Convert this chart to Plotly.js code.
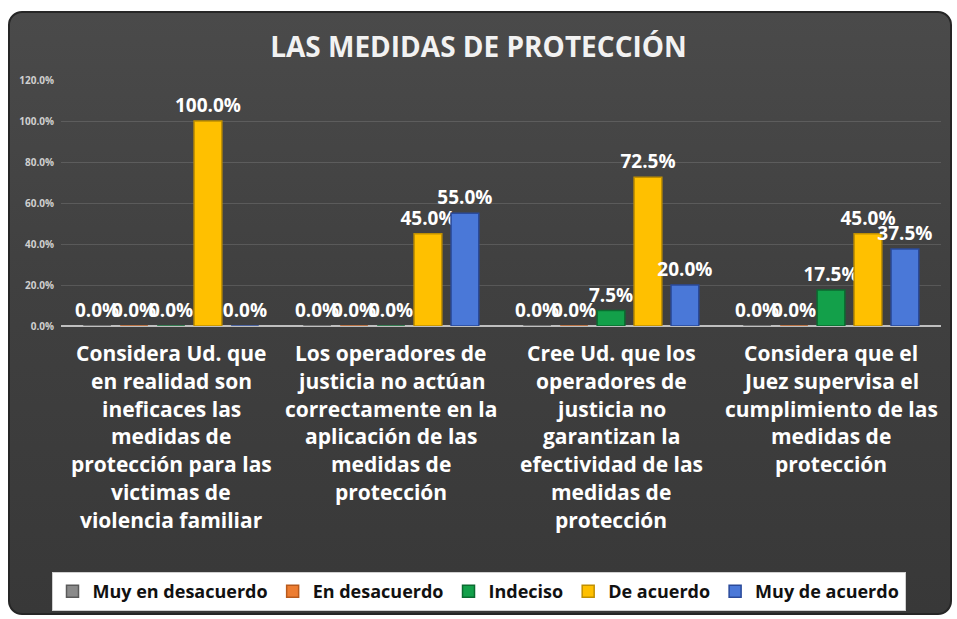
<!DOCTYPE html>
<html>
<head>
<meta charset="utf-8">
<script src="https://cdn.plot.ly/plotly-3.0.1.min.js"></script>
<style>
  html, body { margin: 0; padding: 0; background: #ffffff; width: 957px; height: 619px; overflow: hidden; }
  #panel {
    position: absolute; left: 8px; top: 11px; width: 940px; height: 600px;
    border-radius: 14px; border: 2px solid #262626;
    background: linear-gradient(to bottom, #4a4a4a 0%, #404040 45%, #383838 100%);
  }
  #chart { position: absolute; left: 0; top: 0; width: 957px; height: 619px; }
</style>
</head>
<body>
<div id="panel"></div>
<div id="chart"></div>
<script>
// ---- data ----
const categoryLines = [
  ["Considera Ud. que", "en realidad son", "ineficaces las", "medidas de", "protección para las", "victimas de", "violencia familiar"],
  ["Los operadores de", "justicia no actúan", "correctamente en la", "aplicación de las", "medidas de", "protección"],
  ["Cree Ud. que los", "operadores de", "justicia no", "garantizan la", "efectividad de las", "medidas de", "protección"],
  ["Considera que el", "Juez supervisa el", "cumplimiento de las", "medidas de", "protección"]
];
const categories = categoryLines.map(l => l.join(" "));
const seriesNames = ["Muy en desacuerdo", "En desacuerdo", "Indeciso", "De acuerdo", "Muy de acuerdo"];
const muyEnDesacuerdo = [0, 0, 0, 0];
const enDesacuerdo = [0, 0, 0, 0];
const indeciso = [0, 0, 7.5, 17.5];
const deAcuerdo = [100, 45, 72.5, 45];
const muyDeAcuerdo = [0, 55, 20, 37.5];
const yTickVals = [0, 20, 40, 60, 80, 100, 120];
const yTickText = ["0.0%", "20.0%", "40.0%", "60.0%", "80.0%", "100.0%", "120.0%"];
const chartTitle = "LAS MEDIDAS DE PROTECCIÓN";

// ---- styles ----
const seriesValues = [muyEnDesacuerdo, enDesacuerdo, indeciso, deAcuerdo, muyDeAcuerdo];
const fills = ["#8a8a8a", "#ed7d31", "#13a04a", "#ffc000", "#4a78d8"];
const edges = ["#5a5a5a", "#b85a1c", "#0b6b30", "#c08f00", "#2a4a9a"];
const FONT = "'Open Sans', Lato, sans-serif";

const traces = seriesNames.map((name, i) => ({
  type: "bar",
  name: name,
  x: categories,
  y: seriesValues[i],
  marker: { color: fills[i], line: { color: edges[i], width: 1.5 } },
  text: seriesValues[i].map(v => v.toFixed(1) + "%"),
  texttemplate: "%{text}",
  textposition: "outside",
  constraintext: "none",
  cliponaxis: false,
  textfont: { family: FONT, size: 19, color: "#ffffff", weight: "bold" },
  hoverinfo: "skip"
}));

const annotations = [];
categoryLines.forEach((lines, ci) => {
  lines.forEach((line, li) => {
    annotations.push({
      xref: "x", yref: "paper", x: categories[ci], y: 0,
      yanchor: "middle", xanchor: "center",
      yshift: -27 - li * 27.8,
      text: line, showarrow: false,
      font: { family: FONT, size: 21, color: "#ffffff", weight: "bold" }
    });
  });
});

const layout = {
  width: 957, height: 619,
  paper_bgcolor: "rgba(0,0,0,0)",
  plot_bgcolor: "rgba(0,0,0,0)",
  margin: { l: 61, r: 16, t: 80, b: 293, autoexpand: false },
  title: {
    text: chartTitle,
    x: 0.5, xanchor: "center",
    y: 1 - 47 / 619, yref: "container", yanchor: "middle",
    font: { family: FONT, size: 28, color: "#f2f2f2", weight: "bold" }
  },
  barmode: "group",
  bargap: 0.16,
  bargroupgap: 0.25,
  xaxis: {
    showticklabels: false, showgrid: false, zeroline: false,
    showline: false, ticks: "", automargin: false
  },
  yaxis: {
    range: [0, 120],
    tickvals: yTickVals, ticktext: yTickText,
    tickfont: { family: FONT, size: 10, color: "#cfcfcf", weight: "bold" },
    showgrid: true, gridcolor: "rgba(255,255,255,0.13)", gridwidth: 1,
    zeroline: true, zerolinecolor: "#bfbfbf", zerolinewidth: 2,
    showline: false, ticks: "", ticklabelstandoff: 6, automargin: false
  },
  showlegend: true,
  legend: {
    orientation: "h",
    x: 0.5, xanchor: "center", xref: "container",
    y: (326 - 572) / 246, yanchor: "top", yref: "paper",
    bgcolor: "#ffffff", bordercolor: "#d0d0d0", borderwidth: 1,
    font: { family: FONT, size: 18, color: "#111111", weight: "bold" },
    traceorder: "normal",
    itemwidth: 30
  },
  annotations: annotations
};

Plotly.newPlot("chart", traces, layout, { displayModeBar: false, staticPlot: true });
</script>
</body>
</html>
